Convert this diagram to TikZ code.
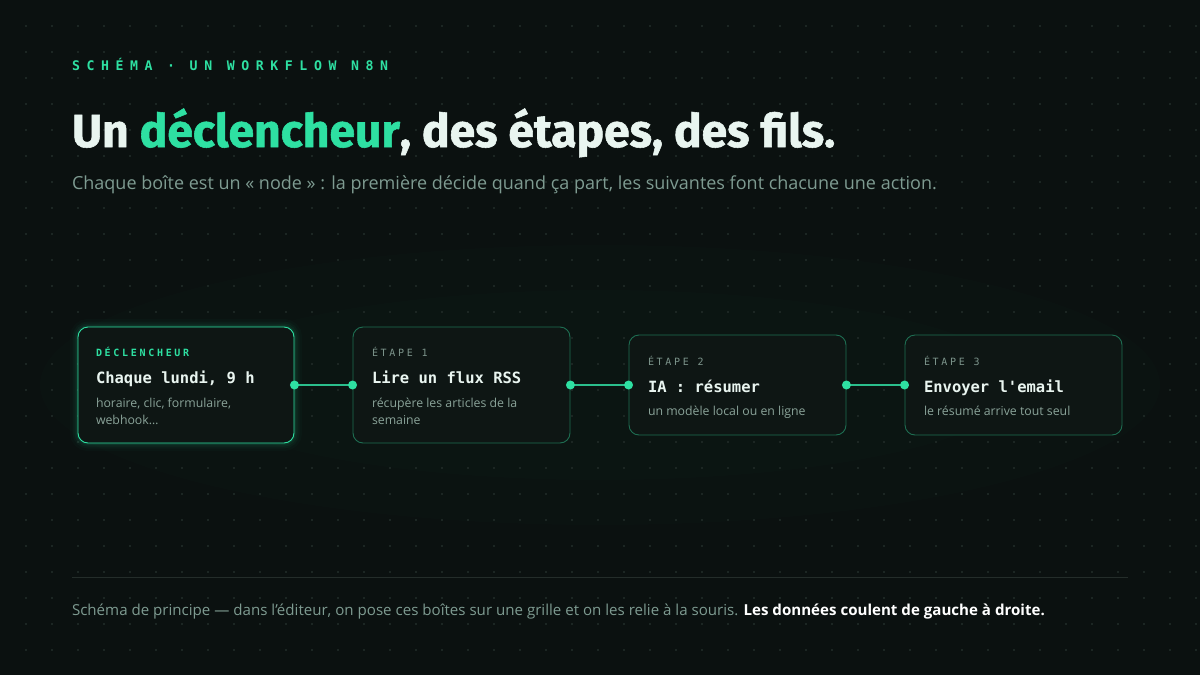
\documentclass[tikz,border=0pt]{standalone}
\usepackage{fontspec}
\setmainfont{Open Sans}
\newfontfamily\titlefont{Fira Sans}[BoldFeatures={FakeBold=1.2}]
\newfontfamily\monofont{DejaVu Sans Mono}
\newfontfamily\trackfont{DejaVu Sans Mono}[LetterSpace=50]
\newfontfamily\trackfontsmall{DejaVu Sans Mono}[LetterSpace=27]
\definecolor{bg}{HTML}{0B1110}
\definecolor{dotc}{HTML}{1C2623}
\definecolor{accent}{HTML}{2EE0A2}
\definecolor{linec}{HTML}{2BBE8C}
\definecolor{ink}{HTML}{E9F5F0}
\definecolor{muted}{HTML}{7E9B91}
\definecolor{desc}{HTML}{8AA399}
\definecolor{dimborder}{HTML}{1E6E52}
\definecolor{boxfill}{HTML}{0E1614}
\definecolor{rulec}{HTML}{242D2A}
\definecolor{labelgrey}{HTML}{7C948B}
\tikzset{
  box/.style={draw=dimborder, line width=0.9pt, fill=boxfill, rounded corners=10pt, inner sep=0pt},
  trigbox/.style={box, draw=accent},
  txt/.style={anchor=base west, inner sep=0pt, outer sep=0pt},
  lbl/.style={txt, font=\trackfontsmall\fontsize{10}{12}\selectfont, text=labelgrey},
  head/.style={txt, font=\monofont\bfseries\fontsize{15.5}{18}\selectfont, text=ink},
  dsc/.style={txt, font=\fontsize{12.3}{16}\selectfont, text=desc},
  conn/.style={draw=linec, line width=2pt},
  port/.style={fill=accent, draw=none}
}
\begin{document}
\begin{tikzpicture}[x=1pt,y=-1pt]
\fill[bg] (0,0) rectangle (1200,675);
\useasboundingbox (0,0) rectangle (1200,675);
% soft glow behind diagram
\fill[accent, opacity=0.010] (600,385) ellipse (560 and 140);
\fill[accent, opacity=0.010] (600,385) ellipse (420 and 95);
% dot grid
\foreach \i in {1,...,46}{
  \foreach \j in {1,...,25}{
    \fill[dotc] ({26*\i-0.8},{26*\j-0.8}) rectangle ++(1.6,1.6);
  }
}
% header
\node[txt, font=\trackfont\bfseries\fontsize{13.2}{15}\selectfont, text=accent] (kicker) at (72,70) {SCHÉMA · UN WORKFLOW N8N};
\node[txt, font=\titlefont\bfseries\fontsize{46.2}{52}\selectfont, text=ink] (title) at (72,147) {Un \textcolor{accent}{déclencheur}, des étapes, des fils.};
\node[txt, font=\fontsize{18}{22}\selectfont, text=muted] (subtitle) at (72,189) {Chaque boîte est un « node » : la première décide quand ça part, les suivantes font chacune une action.};
% glow on trigger
\foreach \w/\o in {16/0.025,11/0.035,7/0.05,3.5/0.08}{
  \draw[accent, opacity=\o, line width=\w pt, rounded corners=10pt] (78,327) rectangle (294,443);
}
% boxes
\node[trigbox, minimum width=216pt, minimum height=116pt] (b1) at (186,385) {};
\node[box, minimum width=217pt, minimum height=116pt] (b2) at (461.5,385) {};
\node[box, minimum width=217pt, minimum height=100pt] (b3) at (737.5,385) {};
\node[box, minimum width=217pt, minimum height=100pt] (b4) at (1013.5,385) {};
% connectors
\draw[conn] (b1.east) -- (b2.west);
\draw[conn] (b2.east) -- (b3.west);
\draw[conn] (b3.east) -- (b4.west);
\foreach \n in {b1.east,b2.west,b2.east,b3.west,b3.east,b4.west}{
  \fill[port] (\n) circle (4.5pt);
}
% box 1 text
\node[lbl, text=accent, font=\trackfontsmall\bfseries\fontsize{10}{12}\selectfont] (l1) at (96,356) {DÉCLENCHEUR};
\node[head] (h1) at (96,383) {Chaque lundi, 9 h};
\node[dsc] (d1a) at (96,407) {horaire, clic, formulaire,};
\node[dsc] (d1b) at (96,424) {webhook…};
% box 2 text
\node[lbl] (l2) at (372,356) {ÉTAPE 1};
\node[head] (h2) at (372,383) {Lire un flux RSS};
\node[dsc] (d2a) at (372,407) {récupère les articles de la};
\node[dsc] (d2b) at (372,424) {semaine};
% box 3 text
\node[lbl] (l3) at (648,365) {ÉTAPE 2};
\node[head] (h3) at (648,392) {IA : résumer};
\node[dsc] (d3) at (648,415) {un modèle local ou en ligne};
% box 4 text
\node[lbl] (l4) at (924,365) {ÉTAPE 3};
\node[head] (h4) at (924,392) {Envoyer l'email};
\node[dsc] (d4) at (924,415) {le résumé arrive tout seul};
% footer
\coordinate (r1) at (72,577);
\coordinate (r2) at (1128,577);
\draw[rulec, line width=1pt] (r1) -- (r2);
\node[txt, font=\fontsize{15.1}{18}\selectfont, text=muted] (foot) at (72,615) {Schéma de principe — dans l'éditeur, on pose ces boîtes sur une grille et on les relie à la souris. \textcolor{white}{\bfseries Les données coulent de gauche à droite.}};
\end{tikzpicture}
\end{document}
